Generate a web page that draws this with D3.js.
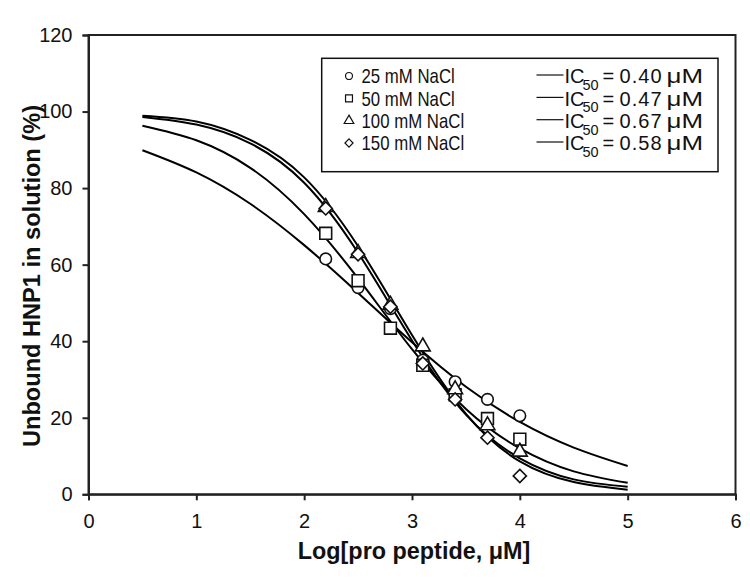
<!DOCTYPE html>
<html><head><meta charset="utf-8">
<script src="https://cdn.jsdelivr.net/npm/d3@7"></script>
<style>body{margin:0;background:#fff}svg{display:block}text{font-family:"Liberation Sans",Arial,sans-serif;fill:#111}</style>
</head><body>
<svg id="chart" width="750" height="581"></svg>
<script>
// Measured data (x = log[pro peptide])
const xValues = [2.2, 2.5, 2.8, 3.1, 3.4, 3.7, 4.0];
const nacl25 = [61.5, 54.0, 48.5, 35.0, 29.4, 24.8, 20.5];
const nacl50 = [68.2, 55.8, 43.4, 33.7, 26.0, 19.8, 14.4];
const nacl100 = [75.0, 63.0, 49.5, 38.6, 27.4, 18.0, 11.1];
const nacl150 = [74.7, 62.7, 49.0, 34.2, 24.8, 14.8, 4.8];

// Fitted curves
const fitX = [0.5, 1.0, 1.5, 2.0, 2.5, 3.0, 3.5, 4.0, 4.5, 5.0];
const fit25 = [89.9, 84.1, 75.9, 65.1, 52.6, 39.7, 28.1, 18.9, 12.2, 7.4];
const fit50 = [96.3, 92.5, 85.3, 73.2, 56.4, 37.9, 22.3, 12.0, 6.0, 3.0];
const fit100 = [98.9, 97.4, 92.6, 82.8, 64.8, 41.6, 21.0, 8.6, 3.2, 1.2];
const fit150 = [98.6, 96.6, 91.7, 81.4, 63.1, 40.2, 20.8, 9.4, 3.9, 2.0];

const seriesNames = ["25 mM NaCl", "50 mM NaCl", "100 mM NaCl", "150 mM NaCl"];
const ic50Labels = ["0.40", "0.47", "0.67", "0.58"];
const symbolKinds = ["circle", "square", "triangle", "diamond"];
const xTicks = [0, 1, 2, 3, 4, 5, 6];
const yTicks = [0, 20, 40, 60, 80, 100, 120];

const seriesData = [nacl25, nacl50, nacl100, nacl150];
const fitData = [fit25, fit50, fit100, fit150];

const svg = d3.select("#chart");
const x = d3.scaleLinear().domain([0, 6]).range([88.5, 735.5]);
const y = d3.scaleLinear().domain([0, 120]).range([494.3, 35]);

const axisColor = "#222";

// Frame
svg.append("rect").attr("x", x(0)).attr("y", y(120))
  .attr("width", x(6) - x(0)).attr("height", y(0) - y(120))
  .attr("fill", "none").attr("stroke", axisColor).attr("stroke-width", 2);

// Axes
const xAxis = svg.append("g").attr("transform", `translate(0,${y(0)})`)
  .call(d3.axisBottom(x).tickValues(xTicks).tickSize(6).tickPadding(14).tickFormat(d3.format("d")));
const yAxis = svg.append("g").attr("transform", `translate(${x(0)},0)`)
  .call(d3.axisLeft(y).tickValues(yTicks).tickSize(6).tickPadding(10).tickFormat(d3.format("d")));
[xAxis, yAxis].forEach(g => {
  g.select(".domain").attr("stroke", axisColor).attr("stroke-width", 2);
  g.selectAll(".tick line").attr("stroke", axisColor).attr("stroke-width", 2);
  g.selectAll(".tick text").attr("font-size", 20).attr("fill", "#111")
    .style("font-family", '"Liberation Sans",Arial,sans-serif');
});

// Axis titles
svg.append("text").attr("x", 414).attr("y", 559)
  .attr("text-anchor", "middle").attr("font-size", 23.4).attr("font-weight", "bold")
  .text("Log[pro peptide, μM]");
svg.append("text").attr("transform", `translate(40,276) rotate(-90)`)
  .attr("text-anchor", "middle").attr("font-size", 23.6).attr("font-weight", "bold")
  .text("Unbound HNP1 in solution (%)");

// Curves
const line = d3.line().x((d, i) => x(fitX[i])).y(d => y(d)).curve(d3.curveNatural);
fitData.forEach(f => {
  svg.append("path").attr("d", line(f)).attr("fill", "none")
    .attr("stroke", "#000").attr("stroke-width", 2);
});

// Markers
const symbolMap = {
  circle: d3.symbolCircle, square: d3.symbolSquare,
  triangle: d3.symbolTriangle, diamond: d3.symbolDiamond2
};
const symbolSize = { circle: 105, square: 140, triangle: 95, diamond: 110 };
seriesData.forEach((s, k) => {
  const kind = symbolKinds[k];
  const sym = d3.symbol().type(symbolMap[kind]).size(symbolSize[kind]);
  svg.append("g").selectAll("path").data(s).join("path")
    .attr("d", sym)
    .attr("transform", (d, i) => `translate(${x(xValues[i])},${y(d)})`)
    .attr("fill", "#fff").attr("stroke", "#111").attr("stroke-width", 1.6);
});

// Legend
const lg = svg.append("g");
lg.append("rect").attr("x", 321.7).attr("y", 58.3).attr("width", 396.3).attr("height", 113.4)
  .attr("fill", "#fff").attr("stroke", "#111").attr("stroke-width", 1.5);
const rowBase = [83.3, 105.7, 128.0, 150.3];
const legendSize = { circle: 38, square: 48, triangle: 40, diamond: 42 };
seriesNames.forEach((name, k) => {
  const kind = symbolKinds[k];
  const b = rowBase[k];
  lg.append("path").attr("d", d3.symbol().type(symbolMap[kind]).size(legendSize[kind])())
    .attr("transform", `translate(349,${b - 7.3})`)
    .attr("fill", "#fff").attr("stroke", "#111").attr("stroke-width", 1.2);
  lg.append("text").attr("transform", `translate(361.5,${b}) scale(0.84,1)`)
    .attr("font-size", 20).text(name);
  lg.append("line").attr("x1", 536.5).attr("x2", 563.5).attr("y1", b - 8.3).attr("y2", b - 8.3)
    .attr("stroke", "#111").attr("stroke-width", 1.2);
  lg.append("text").attr("x", 564.5).attr("y", b).attr("font-size", 20).text("IC");
  lg.append("text").attr("x", 582.5).attr("y", b + 6.5).attr("font-size", 14.5).text("50");
  lg.append("text").attr("x", 602.5).attr("y", b).attr("font-size", 20).text("=");
  lg.append("text").attr("x", 619.5).attr("y", b).attr("font-size", 20)
    .attr("textLength", 42).attr("lengthAdjust", "spacing").text(ic50Labels[k]);
  lg.append("text").attr("x", 666.5).attr("y", b).attr("font-size", 20)
    .attr("textLength", 36.5).attr("lengthAdjust", "spacingAndGlyphs").text("μM");
});
</script>
</body></html>
